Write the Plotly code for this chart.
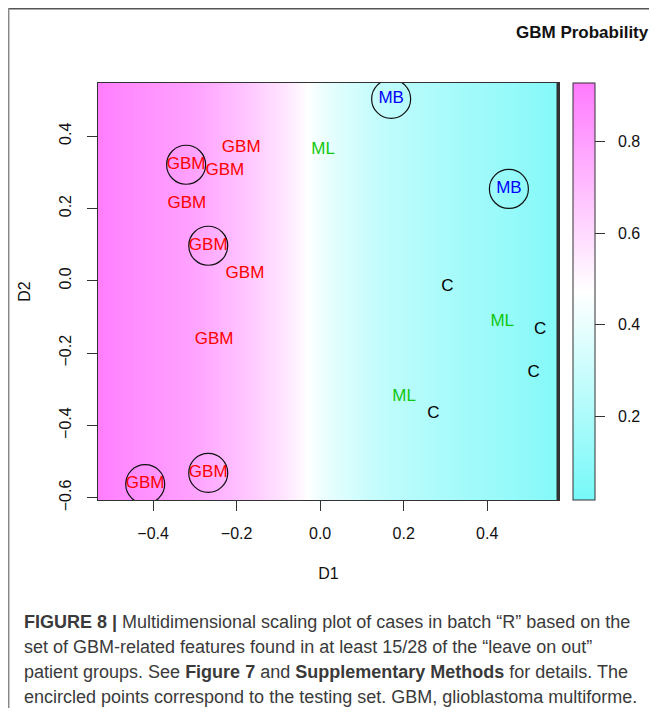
import plotly.graph_objects as go

# ---------------- data ----------------
gbm_d1 = [-0.189, -0.321, -0.228, -0.319, -0.268, -0.180, -0.254, -0.268, -0.419]
gbm_d2 = [0.368, 0.321, 0.304, 0.213, 0.097, 0.019, -0.163, -0.531, -0.562]
gbm_test = [False, True, False, False, True, False, False, True, True]

ml_d1 = [0.007, 0.436, 0.201]
ml_d2 = [0.362, -0.113, -0.320]
ml_test = [False, False, False]

mb_d1 = [0.170, 0.452]
mb_d2 = [0.503, 0.254]
mb_test = [True, True]

c_d1 = [0.305, 0.527, 0.511, 0.271]
c_d2 = [-0.017, -0.136, -0.254, -0.368]
c_test = [False, False, False, False]

# background GBM probability (varies along D1)
bg_d1 = [-0.52, -0.48, -0.44, -0.40, -0.36, -0.32, -0.28, -0.24, -0.20, -0.16,
         -0.12, -0.08, -0.04, 0.00, 0.04, 0.08, 0.12, 0.16, 0.20, 0.24,
         0.28, 0.32, 0.36, 0.40, 0.44, 0.48, 0.52, 0.56]
bg_prob = [0.91, 0.88, 0.86, 0.84, 0.82, 0.80, 0.77, 0.73, 0.69, 0.65,
           0.60, 0.55, 0.49, 0.42, 0.37, 0.33, 0.29, 0.26, 0.24, 0.22,
           0.20, 0.18, 0.16, 0.15, 0.13, 0.11, 0.09, 0.07]
bg_d2_edges = [-0.62, 0.56]
prob_min, prob_max = 0.018, 0.928

x_ticks = [-0.4, -0.2, 0.0, 0.2, 0.4]
y_ticks = [-0.6, -0.4, -0.2, 0.0, 0.2, 0.4]
cb_ticks = [0.2, 0.4, 0.6, 0.8]

caption_lines = [
    "<b>FIGURE 8 |</b> Multidimensional scaling plot of cases in batch \u201cR\u201d based on the",
    "set of GBM-related features found in at least 15/28 of the \u201cleave on out\u201d",
    "patient groups. See <b>Figure 7</b> and <b>Supplementary Methods</b> for details. The",
    "encircled points correspond to the testing set. GBM, glioblastoma multiforme.",
]

# ---------------- layout geometry ----------------
# the page body has an 8px margin, so the figure starts at (8, 8) on the page
OFF = 8
W, H = 657 - OFF, 716 - 2 * OFF
PL, PR, PT, PB = 98 - OFF, 559 - OFF, 83 - OFF, 500 - OFF


def px_x(page_x):
    return (page_x - OFF - PL) / (PR - PL)


def px_y(page_y):
    return (PB - (page_y - OFF)) / (PB - PT)


FONT = "Liberation Sans, Arial, Helvetica, sans-serif"
AX = "#333333"

fig = go.Figure()

fig.add_trace(go.Heatmap(
    x=bg_d1, y=bg_d2_edges, z=[bg_prob],
    zmin=prob_min, zmax=prob_max, zsmooth="best",
    colorscale=[[0.0, "rgb(118,248,248)"], [0.5, "rgb(255,255,255)"], [1.0, "rgb(255,122,255)"]],
    hoverinfo="skip",
    colorbar=dict(
        x=px_x(573), xanchor="left", xpad=0, ypad=0,
        y=0.5, yanchor="middle", len=1, lenmode="fraction",
        thickness=22, outlinecolor=AX, outlinewidth=1,
        tickvals=cb_ticks, ticks="outside", ticklen=10,
        showticklabels=False, tickcolor=AX,
    ),
))

groups = [
    ("GBM", gbm_d1, gbm_d2, gbm_test, "#FF0000"),
    ("ML", ml_d1, ml_d2, ml_test, "#10C810"),
    ("MB", mb_d1, mb_d2, mb_test, "#0000FF"),
    ("C", c_d1, c_d2, c_test, "#000000"),
]

for name, xs, ys, tests, col in groups:
    fig.add_trace(go.Scatter(
        x=xs, y=ys, mode="text", text=[name] * len(xs),
        textposition="middle center",
        textfont=dict(family=FONT, size=17, color=col),
        hoverinfo="skip", showlegend=False, cliponaxis=True,
    ))

for name, xs, ys, tests, col in groups:
    cx = [x for x, t in zip(xs, tests) if t]
    cy = [y for y, t in zip(ys, tests) if t]
    if cx:
        fig.add_trace(go.Scatter(
            x=cx, y=cy, mode="markers",
            marker=dict(symbol="circle-open", size=39, color="#111",
                        line=dict(width=1.2, color="#111")),
            hoverinfo="skip", showlegend=False, cliponaxis=True,
        ))

fig.update_xaxes(
    range=[-0.532, 0.572], tickvals=x_ticks, tickformat=".1f",
    showgrid=False, zeroline=False, showline=True, mirror=True,
    linecolor=AX, linewidth=1.2, ticks="outside", ticklen=10, tickcolor=AX,
    tickfont=dict(family=FONT, size=16, color="#111"), ticklabelstandoff=9,
    title=dict(text="D1", font=dict(family=FONT, size=16, color="#111"), standoff=26),
)
fig.update_yaxes(
    range=[-0.606, 0.547], tickvals=y_ticks, tickformat=".1f", tickangle=-90,
    showgrid=False, zeroline=False, showline=True, mirror=True,
    linecolor=AX, linewidth=1.2, ticks="outside", ticklen=10, tickcolor=AX,
    tickfont=dict(family=FONT, size=16, color="#111"), ticklabelstandoff=10,
    title=dict(text="D2", font=dict(family=FONT, size=16, color="#111"), standoff=21),
)

shapes = [
    # thick right edge of the image region
    dict(type="line", xref="paper", yref="paper", x0=px_x(558), x1=px_x(558),
         y0=0, y1=1, line=dict(color="#333", width=3)),
    # page frame: top and left rules
    dict(type="line", xref="paper", yref="paper", x0=px_x(8), x1=px_x(657),
         y0=px_y(8.7), y1=px_y(8.7), line=dict(color="#555", width=1.5)),
    dict(type="line", xref="paper", yref="paper", x0=px_x(8.7), x1=px_x(8.7),
         y0=px_y(8), y1=px_y(716), line=dict(color="#888", width=1.5)),
]

annotations = [
    dict(text="<b>GBM Probability</b>", xref="paper", yref="paper",
         x=px_x(651), y=px_y(32), xanchor="right", yanchor="middle",
         showarrow=False, font=dict(family=FONT, size=17, color="#111")),
]
# colour-bar tick labels (colour bar spans the full plot height)
for v in cb_ticks:
    annotations.append(dict(
        text=f"{v:.1f}", xref="paper", yref="paper",
        x=px_x(616), y=(v - prob_min) / (prob_max - prob_min),
        xanchor="left", yanchor="middle", showarrow=False,
        font=dict(family=FONT, size=16, color="#111"),
    ))
for i, line in enumerate(caption_lines):
    annotations.append(dict(
        text=line, xref="paper", yref="paper", x=px_x(22), y=px_y(622 + 25 * i),
        xanchor="left", yanchor="middle", showarrow=False,
        font=dict(family=FONT, size=18, color="#3a3a3a"),
    ))

fig.update_layout(
    width=W, height=H,
    margin=dict(l=PL, r=W - PR, t=PT, b=H - PB, pad=0, autoexpand=False),
    paper_bgcolor="white", plot_bgcolor="white",
    showlegend=False, shapes=shapes, annotations=annotations,
)

fig.write_html("out.html")
